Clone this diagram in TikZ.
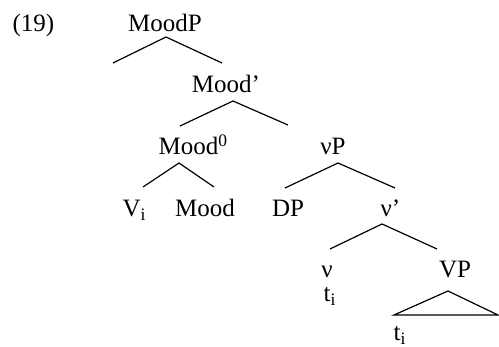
\documentclass[tikz,border=0pt]{standalone}
\usepackage{fontspec}
\setmainfont{Liberation Serif}

\begin{document}
\begin{tikzpicture}[
    x=0.5pt, y=-0.5pt,
    line width=0.6pt,
    cat/.style={anchor=base, inner sep=0pt, font=\fontsize{12.5}{15}\selectfont},
    catw/.style={cat, anchor=base west}
]
    \useasboundingbox (0,0) rectangle (499,347);

    % Categorias
    \node[catw] (ex) at (12,32) {(19)};
    \node[cat] (moodp) at (165,32) {MoodP};
    \node[cat] (moodbar) at (226,93) {Mood’};
    \node[catw] (mood0) at (158,155) {Mood\textsuperscript{0}};
    \node[cat] (vP) at (333,155) {νP};
    \node[catw] (vi) at (122,217) {V\textsubscript{i}};
    \node[cat] (mood) at (205,217) {Mood};
    \node[cat] (dp) at (288,217) {DP};
    \node[catw] (vbar) at (380,217) {ν’};
    \node[cat] (v) at (327,278) {ν};
    \node[cat] (VP) at (455,278) {VP};
    \node[catw] (ti1) at (323,302) {t\textsubscript{i}};
    \node[catw] (ti2) at (393,341) {t\textsubscript{i}};

    % Ramos
    \coordinate (moodp-t) at (166,37);
    \coordinate (moodp-l) at (113,63);
    \coordinate (moodp-r) at (222,63);
    \coordinate (moodbar-t) at (233,101);
    \coordinate (moodbar-l) at (180,126);
    \coordinate (moodbar-r) at (288,125);
    \coordinate (mood0-t) at (179,163);
    \coordinate (mood0-l) at (143,187);
    \coordinate (mood0-r) at (214,187);
    \coordinate (vP-t) at (338,163);
    \coordinate (vP-l) at (285,188);
    \coordinate (vP-r) at (395,188);
    \coordinate (vbar-t) at (382,224);
    \coordinate (vbar-l) at (330,249);
    \coordinate (vbar-r) at (437,249);
    \coordinate (VP-t) at (448,291);
    \coordinate (VP-l) at (394,315);
    \coordinate (VP-r) at (498,315);

    \draw (moodp-l) -- (moodp-t) -- (moodp-r);
    \draw (moodbar-l) -- (moodbar-t) -- (moodbar-r);
    \draw (mood0-l) -- (mood0-t) -- (mood0-r);
    \draw (vP-l) -- (vP-t) -- (vP-r);
    \draw (vbar-l) -- (vbar-t) -- (vbar-r);
    \draw (VP-l) -- (VP-t) -- (VP-r) -- cycle;
\end{tikzpicture}
\end{document}
